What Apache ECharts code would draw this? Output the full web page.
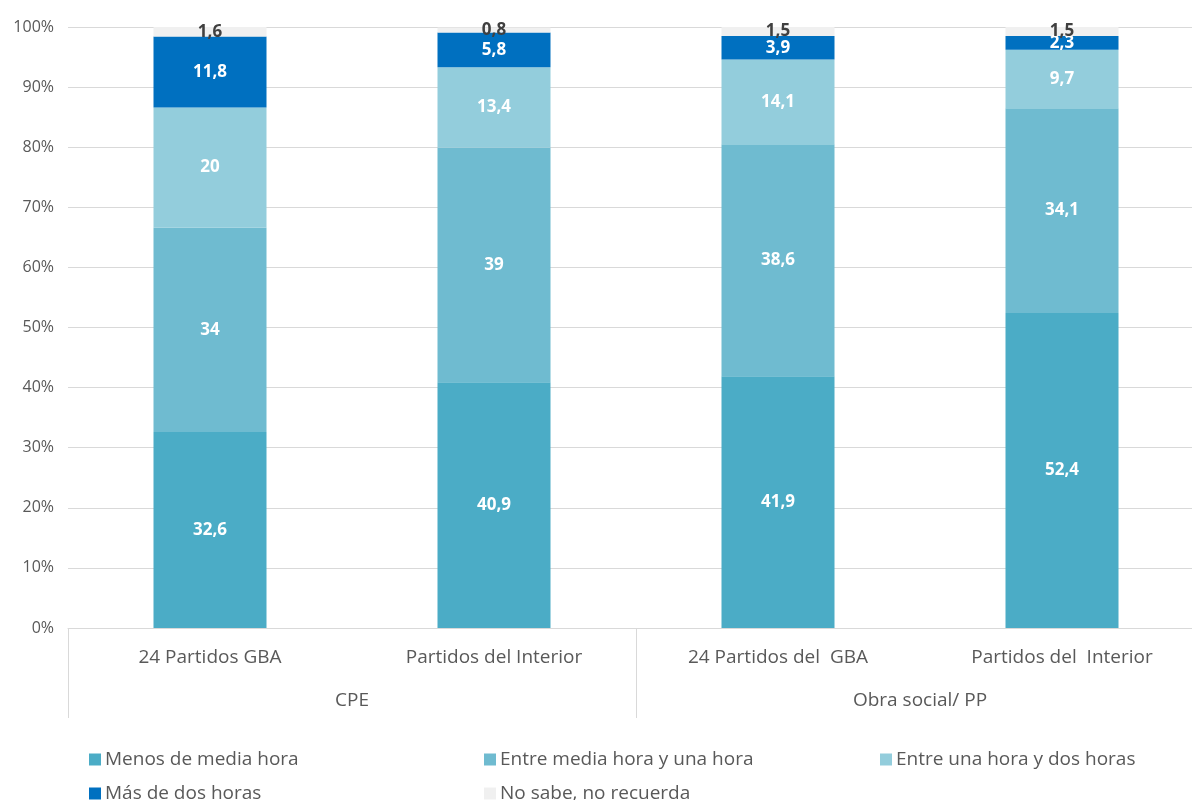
<!DOCTYPE html>
<html><head><meta charset="utf-8">
<script src="https://cdn.jsdelivr.net/npm/echarts@6/dist/echarts.min.js"></script>
<style>html,body{margin:0;padding:0;background:#fff;overflow:hidden}#c{width:1204px;height:800px}</style>
</head><body><div id="c"></div>
<script>
const categories = ['24 Partidos GBA', 'Partidos del Interior', '24 Partidos del  GBA', 'Partidos del  Interior'];
const groups = ['CPE', 'Obra social/ PP'];
const seriesNames = ['Menos de media hora', 'Entre media hora y una hora', 'Entre una hora y dos horas', 'Más de dos horas', 'No sabe, no recuerda'];
const menosMedia = [32.6, 40.9, 41.9, 52.4];
const mediaUna = [34, 39, 38.6, 34.1];
const unaDos = [20, 13.4, 14.1, 9.7];
const masDos = [11.8, 5.8, 3.9, 2.3];
const noSabe = [1.6, 0.8, 1.5, 1.5];
const yTicks = [0, 10, 20, 30, 40, 50, 60, 70, 80, 90, 100];

const colors = ['#4BACC6', '#6FBBD0', '#93CDDC', '#0070C0', '#F0F0F0'];
const values = [menosMedia, mediaUna, unaDos, masDos, noSabe];
const font = '"Open Sans", "Noto Sans", sans-serif';
const fmt = p => String(p.value).replace('.', ',');

const chart = echarts.init(document.getElementById('c'), null, {renderer: 'canvas'});
const series = seriesNames.map((n, i) => ({
  name: n, type: 'bar', stack: 's', barWidth: 113, data: values[i],
  itemStyle: {color: colors[i]},
  label: {show: true, position: 'inside', formatter: fmt, fontFamily: font, fontWeight: 'bold', fontSize: 17,
    color: i === 4 ? '#404040' : '#ffffff'}
}));
const legendPos = [[84, 745], [479, 745], [875, 745], [84, 779], [479, 779]];
chart.setOption({
  animation: false,
  backgroundColor: '#ffffff',
  grid: {left: 68, right: 0, top: 27, bottom: 172},
  legend: seriesNames.map((n, i) => ({
    data: [n], left: legendPos[i][0], top: legendPos[i][1], icon: 'rect', itemWidth: 12, itemHeight: 12, itemGap: 5,
    textStyle: {fontFamily: font, fontSize: 19, color: '#595959', padding: [0, 0, 0, -1]}, selectedMode: false
  })),
  xAxis: [
    {type: 'category', data: categories, position: 'bottom',
     axisLine: {show: true, lineStyle: {color: '#D9D9D9', width: 1}}, axisTick: {show: false},
     axisLabel: {fontFamily: font, fontSize: 19, color: '#595959', margin: 20}},
    {type: 'category', data: groups, position: 'bottom',
     axisLine: {show: false}, axisTick: {show: true, length: 90, alignWithLabel: false, lineStyle: {color: '#D9D9D9'}},
     axisLabel: {fontFamily: font, fontSize: 19, color: '#595959', margin: 63}}
  ],
  yAxis: {type: 'value', min: 0, max: 100, interval: 10,
    axisLine: {show: false}, axisTick: {show: false},
    splitLine: {lineStyle: {color: '#D9D9D9', width: 1}},
    axisLabel: {formatter: v => yTicks.includes(v) ? v + '%' : '', fontFamily: font, fontSize: 16, color: '#595959', margin: 14}},
  series: series
});
</script></body></html>
